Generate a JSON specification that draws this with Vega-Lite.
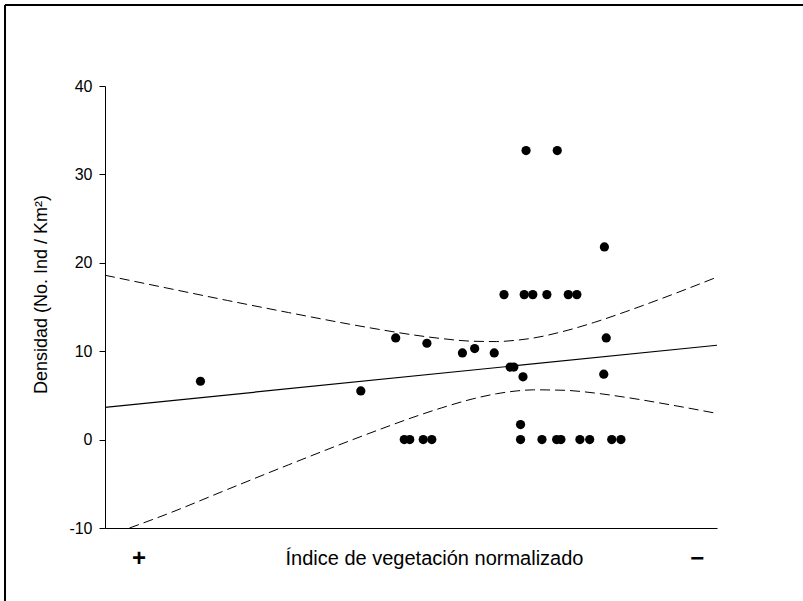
{
  "$schema": "https://vega.github.io/schema/vega-lite/v6.json",
  "width": 798,
  "height": 596,
  "autosize": {"type": "none"},
  "padding": {"left": 5, "top": 5, "right": 0, "bottom": 0},
  "config": {
    "view": {"stroke": "black", "strokeWidth": 2, "strokeDash": [798, 1394, 596, 0]},
    "font": "Liberation Sans"
  },
  "datasets": {
    "obs": [
      {"x": 0.156, "y": 6.6}, {"x": 0.418, "y": 5.5}, {"x": 0.475, "y": 11.5},
      {"x": 0.489, "y": 0}, {"x": 0.498, "y": 0}, {"x": 0.520, "y": 0},
      {"x": 0.526, "y": 10.9}, {"x": 0.534, "y": 0}, {"x": 0.584, "y": 9.8},
      {"x": 0.604, "y": 10.3}, {"x": 0.636, "y": 9.8}, {"x": 0.652, "y": 16.4},
      {"x": 0.662, "y": 8.2}, {"x": 0.668, "y": 8.2}, {"x": 0.679, "y": 1.7},
      {"x": 0.679, "y": 0}, {"x": 0.683, "y": 7.1}, {"x": 0.685, "y": 16.4},
      {"x": 0.688, "y": 32.7}, {"x": 0.699, "y": 16.4}, {"x": 0.714, "y": 0},
      {"x": 0.722, "y": 16.4}, {"x": 0.738, "y": 0}, {"x": 0.739, "y": 32.7},
      {"x": 0.745, "y": 0}, {"x": 0.757, "y": 16.4}, {"x": 0.771, "y": 16.4},
      {"x": 0.776, "y": 0}, {"x": 0.792, "y": 0}, {"x": 0.815, "y": 7.4},
      {"x": 0.816, "y": 21.8}, {"x": 0.819, "y": 11.5}, {"x": 0.828, "y": 0},
      {"x": 0.843, "y": 0}
    ],
    "fit": [
      {"x": 0, "y": 3.65}, {"x": 1, "y": 10.67}
    ],
    "bands": [
      {"band": "upper", "x": 0, "y": 18.59},
      {"band": "upper", "x": 0.1, "y": 17.16},
      {"band": "upper", "x": 0.2, "y": 15.74},
      {"band": "upper", "x": 0.3, "y": 14.37},
      {"band": "upper", "x": 0.4, "y": 13.05},
      {"band": "upper", "x": 0.45, "y": 12.44},
      {"band": "upper", "x": 0.5, "y": 11.88},
      {"band": "upper", "x": 0.55, "y": 11.43},
      {"band": "upper", "x": 0.6, "y": 11.13},
      {"band": "upper", "x": 0.64, "y": 11.09},
      {"band": "upper", "x": 0.672, "y": 11.24},
      {"band": "upper", "x": 0.7, "y": 11.49},
      {"band": "upper", "x": 0.75, "y": 12.26},
      {"band": "upper", "x": 0.8, "y": 13.27},
      {"band": "upper", "x": 0.85, "y": 14.45},
      {"band": "upper", "x": 0.925, "y": 16.36},
      {"band": "upper", "x": 1, "y": 18.38},
      {"band": "lower", "x": 0.04, "y": -10},
      {"band": "lower", "x": 0.1, "y": -8.46},
      {"band": "lower", "x": 0.2, "y": -5.64},
      {"band": "lower", "x": 0.3, "y": -2.85},
      {"band": "lower", "x": 0.4, "y": -0.13},
      {"band": "lower", "x": 0.45, "y": 1.18},
      {"band": "lower", "x": 0.5, "y": 2.44},
      {"band": "lower", "x": 0.55, "y": 3.59},
      {"band": "lower", "x": 0.6, "y": 4.59},
      {"band": "lower", "x": 0.64, "y": 5.19},
      {"band": "lower", "x": 0.672, "y": 5.5},
      {"band": "lower", "x": 0.7, "y": 5.63},
      {"band": "lower", "x": 0.75, "y": 5.58},
      {"band": "lower", "x": 0.8, "y": 5.27},
      {"band": "lower", "x": 0.85, "y": 4.79},
      {"band": "lower", "x": 0.925, "y": 3.92},
      {"band": "lower", "x": 1, "y": 2.96}
    ]
  },
  "layer": [
    {
      "data": {"name": "fit"},
      "mark": {"type": "line", "color": "black", "strokeWidth": 1.2},
      "encoding": {
        "x": {
          "field": "x", "type": "quantitative",
          "scale": {"domain": [0, 1], "range": [100, 712], "nice": false, "zero": false},
          "axis": {
            "orient": "bottom", "offset": -73,
            "values": [0.0547, 0.967],
            "labelExpr": "datum.value < 0.5 ? '+' : '−'",
            "ticks": false, "tickSize": 0, "grid": false,
            "domainColor": "black", "domainWidth": 1,
            "labelFontSize": 24, "labelFontWeight": "bold", "labelColor": "black",
            "labelBaseline": "middle", "labelPadding": 30,
            "labelOverlap": false, "labelBound": false, "labelFlush": false,
            "title": "Índice de vegetación normalizado",
            "titleFontSize": 20, "titleFontWeight": "normal", "titleColor": "black",
            "titleX": 429, "titleY": 30, "titleAlign": "center", "titleBaseline": "middle",
            "titleAnchor": "start"
          }
        },
        "y": {
          "field": "y", "type": "quantitative",
          "scale": {"domain": [-10, 40], "range": [523, 81], "nice": false, "zero": false},
          "axis": {
            "orient": "left", "offset": -100,
            "values": [-10, 0, 10, 20, 30, 40],
            "labelExpr": "'' + datum.value",
            "grid": false, "tickSize": 6, "tickColor": "black", "tickWidth": 1,
            "domainColor": "black", "domainWidth": 1,
            "labelFontSize": 16, "labelColor": "black", "labelPadding": 7,
            "title": "Densidad (No. Ind / Km²)",
            "titleFontSize": 18, "titleFontWeight": "normal", "titleColor": "black",
            "titlePadding": 18, "titleY": 289, "titleAlign": "center"
          }
        }
      }
    },
    {
      "data": {"name": "bands"},
      "mark": {"type": "line", "color": "black", "strokeWidth": 1, "strokeDash": [10, 5], "interpolate": "monotone"},
      "encoding": {
        "x": {"field": "x", "type": "quantitative"},
        "y": {"field": "y", "type": "quantitative"},
        "detail": {"field": "band"}
      }
    },
    {
      "data": {"name": "obs"},
      "mark": {"type": "circle", "color": "black", "opacity": 1, "size": 85},
      "encoding": {
        "x": {"field": "x", "type": "quantitative"},
        "y": {"field": "y", "type": "quantitative"}
      }
    }
  ]
}
